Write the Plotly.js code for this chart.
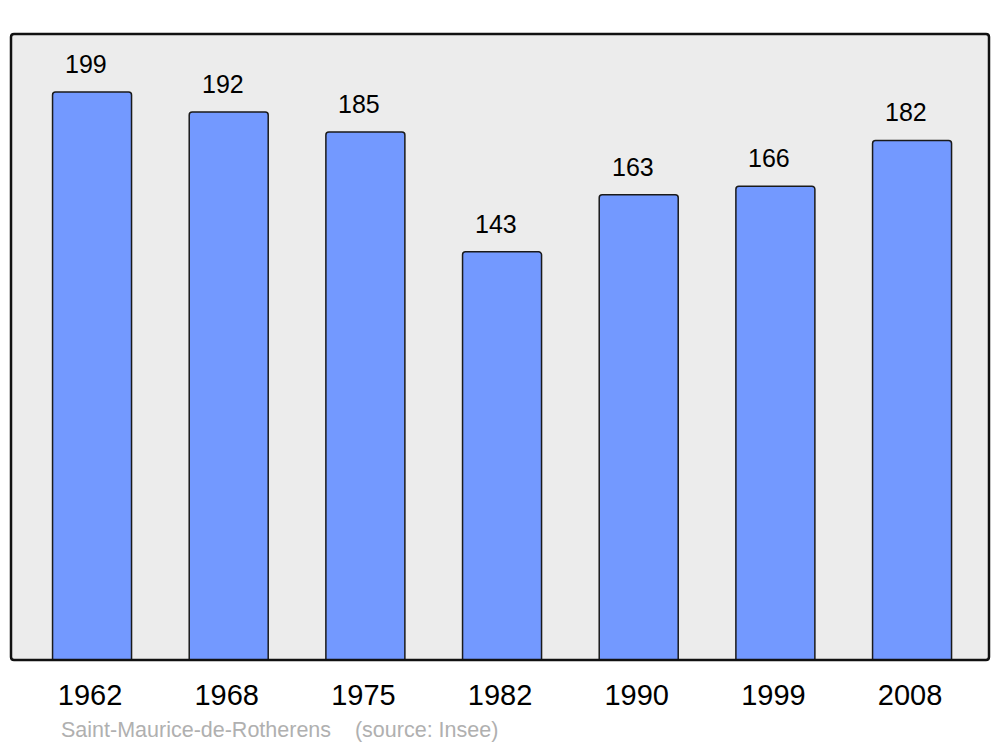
<!DOCTYPE html>
<html><head><meta charset="utf-8">
<script src="https://cdn.plot.ly/plotly-3.0.1.min.js"></script>
<style>body{margin:0;padding:0;background:#fff}#chart{width:1000px;height:747px}</style>
</head><body><div id="chart"></div>
<script>
const years = ["1962","1968","1975","1982","1990","1999","2008"];
const population = [199,192,185,143,163,166,182];
const sourceText = "Saint-Maurice-de-Rotherens    (source: Insee)";

const rx = 3/978, ry = 3/626;
const framePath = `M ${rx},0 L ${1-rx},0 Q 1,0 1,${ry} L 1,${1-ry} Q 1,1 ${1-rx},1 L ${rx},1 Q 0,1 0,${1-ry} L 0,${ry} Q 0,0 ${rx},0 Z`;

const annotations = years.map((y,i)=>({
  x: i, y: population[i], xref:'x', yref:'y', text: String(population[i]),
  showarrow:false, yanchor:'middle', yshift:28, xshift:-6,
  font:{family:'Liberation Sans, Arial, sans-serif', size:25, color:'#000'}
}));
annotations.push({
  xref:'paper', yref:'paper', x:48/978, y:-70/626, xanchor:'left', yanchor:'middle',
  text: sourceText.replace(/ /g,'&nbsp;'), showarrow:false,
  font:{family:'Liberation Sans, Arial, sans-serif', size:21.5, color:'#b0b0b0'}
});

Plotly.newPlot('chart', [{
  type:'bar', x: years, y: population, width:0.578,
  marker:{color:'#7399ff', line:{color:'#1a1a1a', width:1.5}, cornerradius:3},
  hoverinfo:'none'
}], {
  width:1000, height:747,
  margin:{l:11, r:11, t:34, b:87},
  paper_bgcolor:'#ffffff', plot_bgcolor:'#ececec',
  showlegend:false,
  xaxis:{type:'category', range:[-0.593, 6.563], showgrid:false, zeroline:false, showline:false,
    ticks:'', ticklabelstandoff:15, ticklabelshift:-2,
    tickfont:{family:'Liberation Sans, Arial, sans-serif', size:29, color:'#000'}},
  yaxis:{range:[0,219.3], showgrid:false, zeroline:false, showline:false, showticklabels:false, ticks:''},
  shapes:[{type:'path', xref:'paper', yref:'paper', path: framePath, line:{color:'#111', width:2.5}, fillcolor:'rgba(0,0,0,0)', layer:'above'}],
  annotations: annotations
}, {staticPlot:true});
</script></body></html>
